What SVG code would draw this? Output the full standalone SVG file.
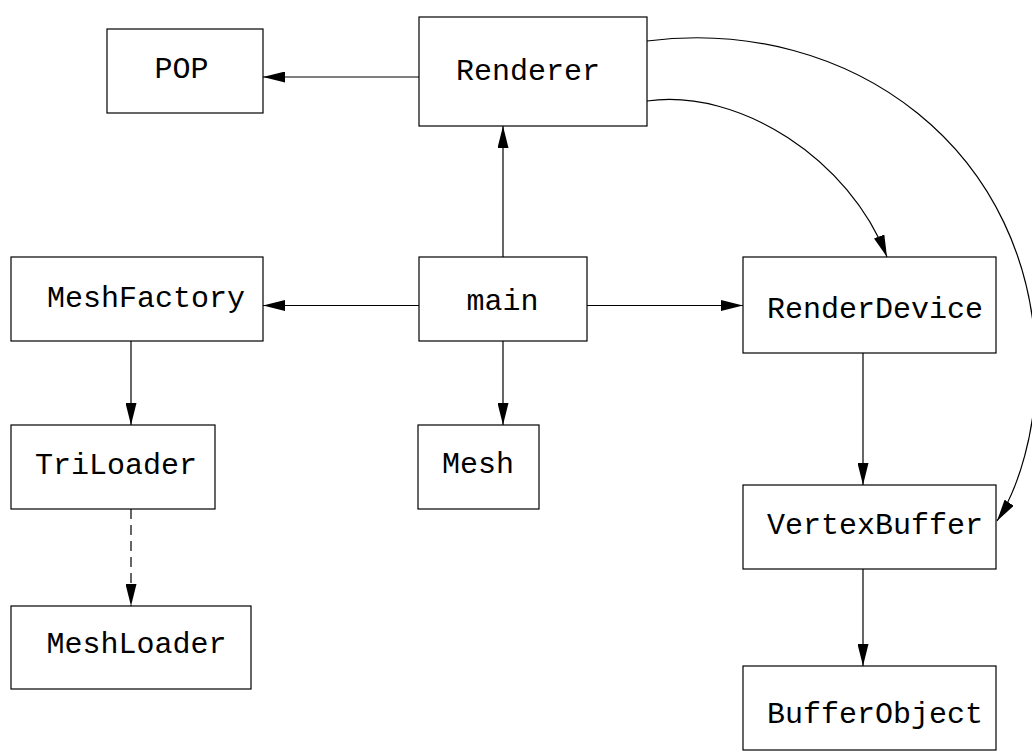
<svg xmlns="http://www.w3.org/2000/svg" width="1032" height="756" viewBox="0 0 1032 756">
  <style>
    .box { fill: #fff; stroke: #000; stroke-width: 1.2; }
    .lbl { font-family: "Liberation Mono", "DejaVu Sans Mono", monospace; font-size: 30px; fill: #000; text-anchor: middle; }
    .edge { fill: none; stroke: #000; stroke-width: 1.2; marker-end: url(#head); }
    .dashed { stroke-dasharray: 10 6; }
  </style>
  <defs>
    <marker id="head" markerUnits="userSpaceOnUse" markerWidth="22" markerHeight="11" refX="22" refY="5.5" orient="auto">
      <path d="M0,0 L22,5.5 L0,11 z" fill="#000"/>
    </marker>
  </defs>
  <rect width="1032" height="756" fill="#fff"/>

  <g id="connectors">
    <line class="edge" x1="419" y1="77" x2="263" y2="77"/>
    <line class="edge" x1="503" y1="257" x2="503" y2="126"/>
    <line class="edge" x1="419" y1="305.5" x2="263" y2="305.5"/>
    <line class="edge" x1="587" y1="305.5" x2="743" y2="305.5"/>
    <line class="edge" x1="503" y1="341" x2="503" y2="425"/>
    <line class="edge" x1="131" y1="341" x2="131" y2="425"/>
    <line class="edge dashed" x1="131" y1="509" x2="131" y2="606"/>
    <line class="edge" x1="863" y1="353" x2="863" y2="485"/>
    <line class="edge" x1="863" y1="569" x2="863" y2="666"/>
    <path class="edge" d="M647,101 C740,88 850,160 887,257"/>
    <path class="edge" d="M647,41 C850,15 1036,150 1036,370 C1036,430 1019,488 997,521"/>
  </g>

  <g id="node-pop">
    <rect class="box" x="107" y="29" width="156" height="84"/>
    <text class="lbl" x="181.5" y="78">POP</text>
  </g>
  <g id="node-renderer">
    <rect class="box" x="419" y="17" width="228" height="109"/>
    <text class="lbl" x="528" y="80">Renderer</text>
  </g>
  <g id="node-meshfactory">
    <rect class="box" x="11" y="257" width="252" height="84"/>
    <text class="lbl" x="146" y="307">MeshFactory</text>
  </g>
  <g id="node-main">
    <rect class="box" x="419" y="257" width="168" height="84"/>
    <text class="lbl" x="502.5" y="310">main</text>
  </g>
  <g id="node-renderdevice">
    <rect class="box" x="743" y="257" width="253" height="96"/>
    <text class="lbl" x="875" y="318">RenderDevice</text>
  </g>
  <g id="node-triloader">
    <rect class="box" x="11" y="425" width="204" height="84"/>
    <text class="lbl" x="116" y="474">TriLoader</text>
  </g>
  <g id="node-mesh">
    <rect class="box" x="418" y="425" width="121" height="84"/>
    <text class="lbl" x="478" y="473">Mesh</text>
  </g>
  <g id="node-vertexbuffer">
    <rect class="box" x="743" y="485" width="253" height="84"/>
    <text class="lbl" x="875" y="534">VertexBuffer</text>
  </g>
  <g id="node-meshloader">
    <rect class="box" x="11" y="606" width="240" height="83"/>
    <text class="lbl" x="136.5" y="653">MeshLoader</text>
  </g>
  <g id="node-bufferobject">
    <rect class="box" x="743" y="666" width="253" height="84"/>
    <text class="lbl" x="875" y="723">BufferObject</text>
  </g>
</svg>
